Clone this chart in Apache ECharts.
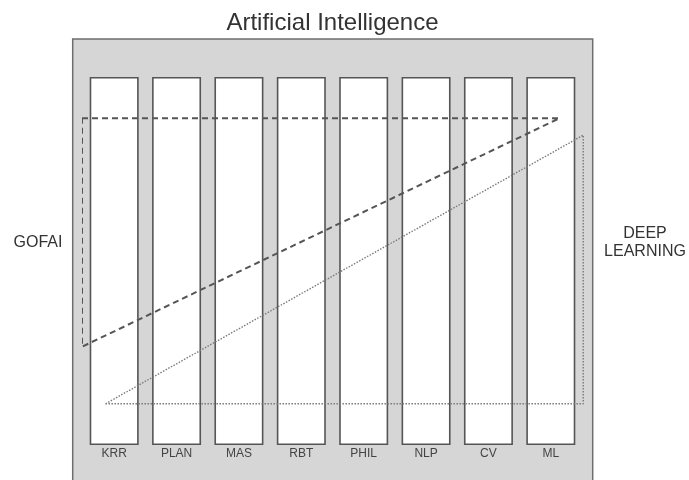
<!DOCTYPE html>
<html>
<head>
<meta charset="utf-8">
<script src="https://cdn.jsdelivr.net/npm/echarts@6/dist/echarts.min.js"></script>
<style>
html,body{margin:0;padding:0;background:#fff;}
#chart{width:689px;height:480px;}
</style>
</head>
<body>
<div id="chart"></div>
<script>
// ---- data ----
var categories = ['KRR', 'PLAN', 'MAS', 'RBT', 'PHIL', 'NLP', 'CV', 'ML'];
var columnHeights = [100, 100, 100, 100, 100, 100, 100, 100];
// GOFAI triangle (dashed): [x (column units), y (0-100)]
var gofaiX = [-0.516, 7.14, -0.516, -0.516];
var gofaiY = [88.8, 88.8, 26.7, 88.8];
// Deep learning triangle (dotted)
var deepX = [-0.14, 7.52, 7.52, -0.14];
var deepY = [11.2, 11.2, 84.2, 11.2];
var titleText = 'Artificial Intelligence';
var leftLabel = 'GOFAI';
var rightLabel = 'DEEP\nLEARNING';

function pairs(xs, ys) {
  return xs.map(function (x, i) { return [x, ys[i]]; });
}

var FONT = 'Liberation Sans, Arial, sans-serif';
var chart = echarts.init(document.getElementById('chart'), null, {renderer: 'canvas'});
chart.setOption({
  animation: false,
  backgroundColor: '#ffffff',
  graphic: [
    {
      type: 'rect', z: 0,
      shape: {x: 72.7, y: 39, width: 520, height: 470},
      style: {fill: '#d6d6d6', stroke: '#6e6e6e', lineWidth: 1.5}
    },
    {
      type: 'text', z: 10,
      style: {text: titleText, x: 332.5, y: 23, textAlign: 'center', textVerticalAlign: 'middle',
        font: '24px ' + FONT, fill: '#333333'}
    },
    {
      type: 'text', z: 10,
      style: {text: leftLabel, x: 38, y: 243, textAlign: 'center', textVerticalAlign: 'middle',
        font: '16px ' + FONT, fill: '#333333'}
    },
    {
      type: 'text', z: 10,
      style: {text: rightLabel, x: 645, y: 243, textAlign: 'center', textVerticalAlign: 'middle',
        font: '16px ' + FONT, fill: '#333333', lineHeight: 18}
    }
  ],
  grid: {left: 83, right: 107, top: 77, bottom: 35, containLabel: false},
  xAxis: [
    {
      type: 'category', data: categories, boundaryGap: true,
      axisLine: {show: false}, axisTick: {show: false}, splitLine: {show: false},
      axisLabel: {color: '#444444', fontSize: 12, margin: 3, fontFamily: FONT}
    },
    {
      type: 'value', min: -0.5, max: 7.5, show: false, splitLine: {show: false}
    }
  ],
  yAxis: {type: 'value', min: 0, max: 100, show: false, splitLine: {show: false}},
  series: [
    {
      type: 'bar', xAxisIndex: 0, data: columnHeights, barWidth: 49,
      itemStyle: {color: '#ffffff', borderColor: '#555555', borderWidth: 1.6},
      silent: true
    },
    {
      type: 'line', xAxisIndex: 1, data: pairs(gofaiX, gofaiY), symbol: 'none', clip: false,
      lineStyle: {color: '#555555', width: 2, type: [6, 4]}
    },
    {
      type: 'line', xAxisIndex: 1, data: pairs(deepX, deepY), symbol: 'none', clip: false,
      lineStyle: {color: '#7a7a7a', width: 1.4, type: [1.5, 1.5]}
    }
  ]
});
</script>
</body>
</html>
